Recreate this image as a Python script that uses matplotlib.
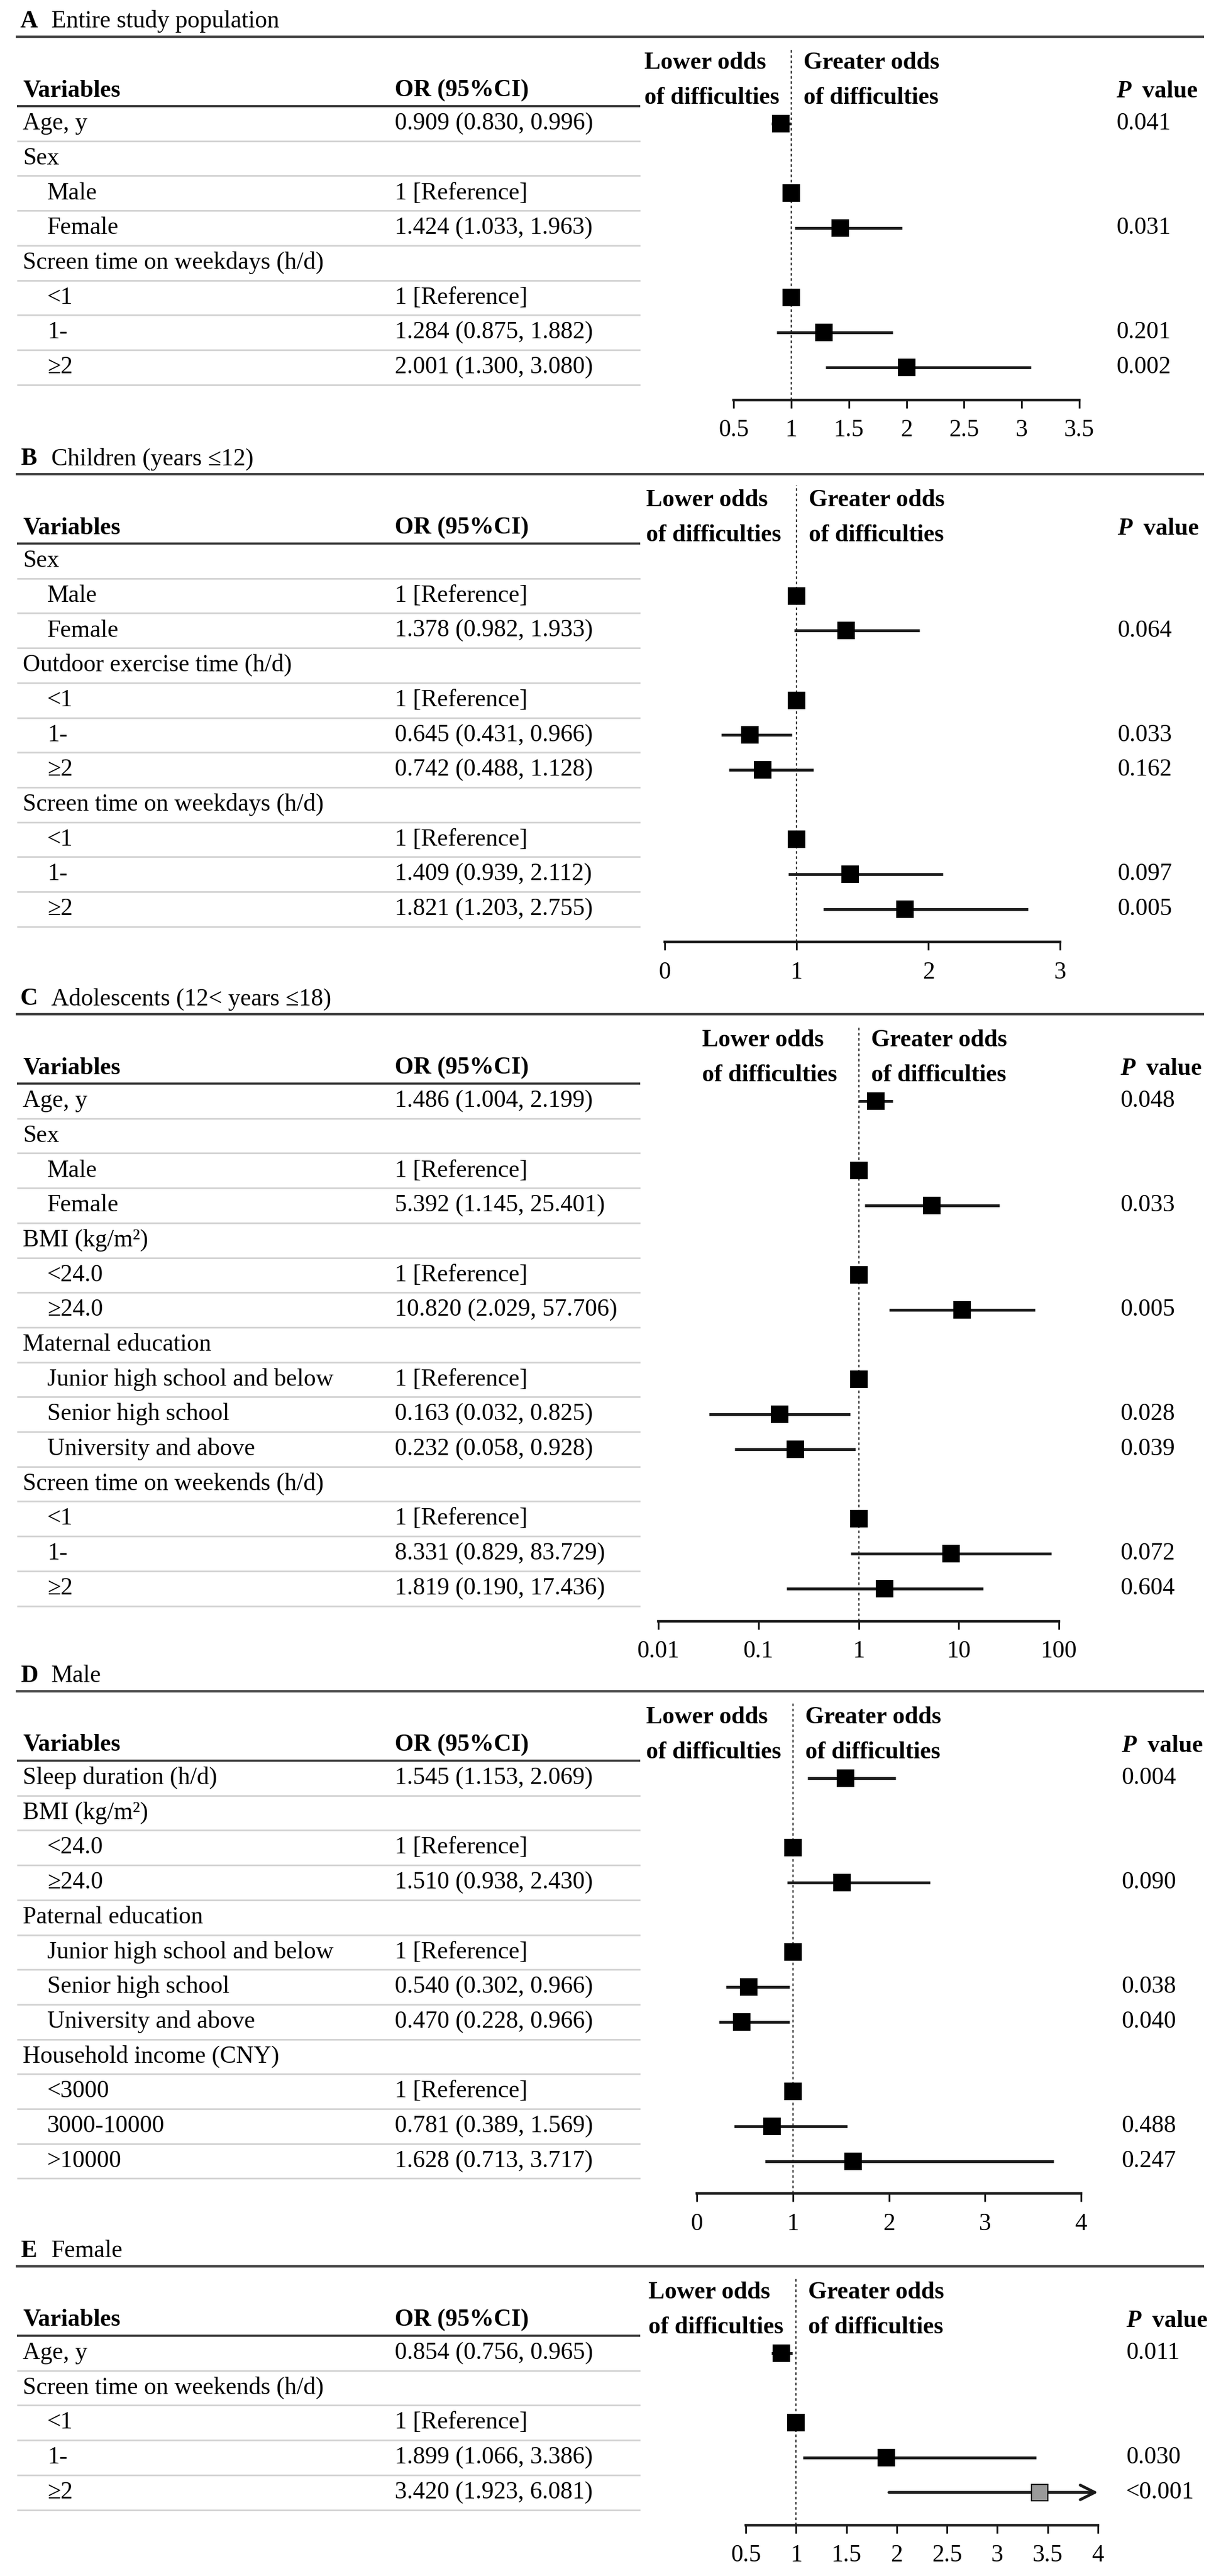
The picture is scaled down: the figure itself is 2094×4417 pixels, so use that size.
import matplotlib
matplotlib.use('Agg')
import matplotlib.pyplot as plt
import numpy as np

plt.rcParams['font.family'] = ['Liberation Serif', 'DejaVu Serif']

# ---------------- data ----------------
A_title = "Entire study population"
A_labels = ["Age, y", "Sex", "Male", "Female", "Screen time on weekdays (h/d)", "<1", "1-", "≥2"]
A_level = [0, 0, 1, 1, 0, 1, 1, 1]
A_or = [0.909, None, 1, 1.424, None, 1, 1.284, 2.001]
A_lo = [0.830, None, None, 1.033, None, None, 0.875, 1.300]
A_hi = [0.996, None, None, 1.963, None, None, 1.882, 3.080]
A_p = ["0.041", "", "", "0.031", "", "", "0.201", "0.002"]
A_ticks = [0.5, 1, 1.5, 2, 2.5, 3, 3.5]

B_title = "Children (years ≤12)"
B_labels = ["Sex", "Male", "Female", "Outdoor exercise time (h/d)", "<1", "1-", "≥2",
            "Screen time on weekdays (h/d)", "<1", "1-", "≥2"]
B_level = [0, 1, 1, 0, 1, 1, 1, 0, 1, 1, 1]
B_or = [None, 1, 1.378, None, 1, 0.645, 0.742, None, 1, 1.409, 1.821]
B_lo = [None, None, 0.982, None, None, 0.431, 0.488, None, None, 0.939, 1.203]
B_hi = [None, None, 1.933, None, None, 0.966, 1.128, None, None, 2.112, 2.755]
B_p = ["", "", "0.064", "", "", "0.033", "0.162", "", "", "0.097", "0.005"]
B_ticks = [0, 1, 2, 3]

C_title = "Adolescents (12< years ≤18)"
C_labels = ["Age, y", "Sex", "Male", "Female", "BMI (kg/m²)", "<24.0", "≥24.0",
            "Maternal education", "Junior high school and below", "Senior high school",
            "University and above", "Screen time on weekends (h/d)", "<1", "1-", "≥2"]
C_level = [0, 0, 1, 1, 0, 1, 1, 0, 1, 1, 1, 0, 1, 1, 1]
C_or = [1.486, None, 1, 5.392, None, 1, 10.820, None, 1, 0.163, 0.232, None, 1, 8.331, 1.819]
C_lo = [1.004, None, None, 1.145, None, None, 2.029, None, None, 0.032, 0.058, None, None, 0.829, 0.190]
C_hi = [2.199, None, None, 25.401, None, None, 57.706, None, None, 0.825, 0.928, None, None, 83.729, 17.436]
C_p = ["0.048", "", "", "0.033", "", "", "0.005", "", "", "0.028", "0.039", "", "", "0.072", "0.604"]
C_ticks = [0.01, 0.1, 1, 10, 100]

D_title = "Male"
D_labels = ["Sleep duration (h/d)", "BMI (kg/m²)", "<24.0", "≥24.0", "Paternal education",
            "Junior high school and below", "Senior high school", "University and above",
            "Household income (CNY)", "<3000", "3000-10000", ">10000"]
D_level = [0, 0, 1, 1, 0, 1, 1, 1, 0, 1, 1, 1]
D_or = [1.545, None, 1, 1.510, None, 1, 0.540, 0.470, None, 1, 0.781, 1.628]
D_lo = [1.153, None, None, 0.938, None, None, 0.302, 0.228, None, None, 0.389, 0.713]
D_hi = [2.069, None, None, 2.430, None, None, 0.966, 0.966, None, None, 1.569, 3.717]
D_p = ["0.004", "", "", "0.090", "", "", "0.038", "0.040", "", "", "0.488", "0.247"]
D_ticks = [0, 1, 2, 3, 4]

E_title = "Female"
E_labels = ["Age, y", "Screen time on weekends (h/d)", "<1", "1-", "≥2"]
E_level = [0, 0, 1, 1, 1]
E_or = [0.854, None, 1, 1.899, 3.420]
E_lo = [0.756, None, None, 1.066, 1.923]
E_hi = [0.965, None, None, 3.386, 6.081]
E_p = ["0.011", "", "", "0.030", "<0.001"]
E_ticks = [0.5, 1, 1.5, 2, 2.5, 3, 3.5, 4]

# ---------------- layout (pixels) ----------------
W, H, DPI = 2094, 4417, 100
ROWH = 59.7
FS = 30

panels = [
    dict(letter="A", title=A_title, labels=A_labels, level=A_level, orv=A_or, lo=A_lo, hi=A_hi, p=A_p,
         ticks=A_ticks, log=False, header=182, ax_x=(1258, 1851), px=1914, lowx=1105),
    dict(letter="B", title=B_title, labels=B_labels, level=B_level, orv=B_or, lo=B_lo, hi=B_hi, p=B_p,
         ticks=B_ticks, log=False, header=932, ax_x=(1140, 1818), px=1916, lowx=1108),
    dict(letter="C", title=C_title, labels=C_labels, level=C_level, orv=C_or, lo=C_lo, hi=C_hi, p=C_p,
         ticks=C_ticks, log=True, header=1858, ax_x=(1129, 1816), px=1921, lowx=1204),
    dict(letter="D", title=D_title, labels=D_labels, level=D_level, orv=D_or, lo=D_lo, hi=D_hi, p=D_p,
         ticks=D_ticks, log=False, header=3019, ax_x=(1195, 1854), px=1923, lowx=1108),
    dict(letter="E", title=E_title, labels=E_labels, level=E_level, orv=E_or, lo=E_lo, hi=E_hi, p=E_p,
         ticks=E_ticks, log=False, header=4005, ax_x=(1279, 1883), px=1931, lowx=1112),
]

fig = plt.figure(figsize=(W / DPI, H / DPI), dpi=DPI)
bg = fig.add_axes([0, 0, 1, 1])
bg.set_xlim(0, W)
bg.set_ylim(H, 0)
bg.axis('off')

TAB_L, TAB_R = 29, 1098
X_VAR, X_IND, X_OR = 39, 81, 677


def fmt_tick(v):
    return f"{v:g}"


for pn in panels:
    hy = pn["header"]
    n = len(pn["labels"])
    axis_y = hy + n * ROWH + 26
    top_y = hy - 100
    # title and rules
    bg.text(35, hy - 145, pn["letter"], fontsize=FS, fontweight='bold', va='center', ha='left')
    bg.text(88, hy - 145, pn["title"], fontsize=FS, va='center', ha='left')
    bg.plot([27, 2065], [hy - 119, hy - 119], color='#454545', lw=3, solid_capstyle='butt')
    bg.plot([TAB_L, TAB_R], [hy, hy], color='#333333', lw=2.6, solid_capstyle='butt')
    bg.text(X_VAR, hy - 27, "Variables", fontsize=FS, fontweight='bold', va='center', ha='left')
    bg.text(X_OR, hy - 27, "OR (95%CI)", fontsize=FS, fontweight='bold', va='center', ha='left')
    bg.text(pn["px"], hy - 25, "P", fontsize=FS, fontweight='bold', style='italic', va='center', ha='left')
    bg.text(pn["px"] + 45, hy - 25, "value", fontsize=FS, fontweight='bold', va='center', ha='left')

    # table rows
    for i in range(n):
        cy = hy + (i + 0.5) * ROWH
        x = X_IND if pn["level"][i] else X_VAR
        bg.text(x, cy, pn["labels"][i], fontsize=FS, va='center', ha='left')
        o = pn["orv"][i]
        if o is not None:
            if pn["lo"][i] is None:
                s = "1 [Reference]"
            else:
                s = f"{o:.3f} ({pn['lo'][i]:.3f}, {pn['hi'][i]:.3f})"
            bg.text(X_OR, cy, s, fontsize=FS, va='center', ha='left')
        if pn["p"][i]:
            bg.text(pn["px"], cy, pn["p"][i], fontsize=FS, va='center', ha='left')
        sy = hy + (i + 1) * ROWH
        bg.plot([TAB_L, TAB_R], [sy, sy], color='#d2d2d2', lw=2.0, solid_capstyle='butt')

    # forest axes
    x0, x1 = pn["ax_x"]
    ax = fig.add_axes([x0 / W, 1 - axis_y / H, (x1 - x0) / W, (axis_y - top_y) / H])
    ax.patch.set_alpha(0)
    ticks = pn["ticks"]
    if pn["log"]:
        ax.set_xscale('log')
    ax.set_xlim(ticks[0], ticks[-1])
    ax.set_ylim(axis_y, top_y)
    ax.set_xticks(ticks)
    ax.set_xticklabels([fmt_tick(t) for t in ticks])
    ax.minorticks_off()
    ax.set_yticks([])
    for s in ['top', 'right', 'left']:
        ax.spines[s].set_visible(False)
    ax.spines['bottom'].set_linewidth(3.2)
    ax.spines['bottom'].set_color('#1a1a1a')
    ax.tick_params(axis='x', direction='out', length=10, width=2.2, color='#1a1a1a',
                   labelsize=FS, pad=14)
    ax.axvline(1, color='#333333', lw=1.6, linestyle=(0, (2, 2)), zorder=1)

    # greater/lower labels
    ref_px = ax.transData.transform((1, 0))[0]
    bg.text(pn["lowx"], hy - 74, "Lower odds", fontsize=FS, fontweight='bold', va='center', ha='left')
    bg.text(pn["lowx"], hy - 14, "of difficulties", fontsize=FS, fontweight='bold', va='center', ha='left')
    bg.text(ref_px + 21, hy - 74, "Greater odds", fontsize=FS, fontweight='bold', va='center', ha='left')
    bg.text(ref_px + 21, hy - 14, "of difficulties", fontsize=FS, fontweight='bold', va='center', ha='left')

    xmax = ticks[-1]
    for i in range(n):
        o = pn["orv"][i]
        if o is None:
            continue
        cy = hy + (i + 0.5) * ROWH
        lo, hi = pn["lo"][i], pn["hi"][i]
        face = 'black'
        if lo is not None:
            if hi > xmax:
                ax.annotate('', xy=(xmax, cy), xytext=(lo, cy),
                            arrowprops=dict(arrowstyle='->', lw=3.5, color='#1a1a1a',
                                            mutation_scale=45, shrinkA=0, shrinkB=0),
                            annotation_clip=False, zorder=2)
                face = '#9a9a9a'
            else:
                ax.plot([lo, hi], [cy, cy], color='#1a1a1a', lw=3.5, zorder=2,
                        solid_capstyle='butt')
        ax.plot([o], [cy], marker='s', markersize=20, markerfacecolor=face,
                markeredgecolor='black', markeredgewidth=1.5, zorder=3, clip_on=False)

fig.savefig("out.png", dpi=DPI, facecolor='white')
